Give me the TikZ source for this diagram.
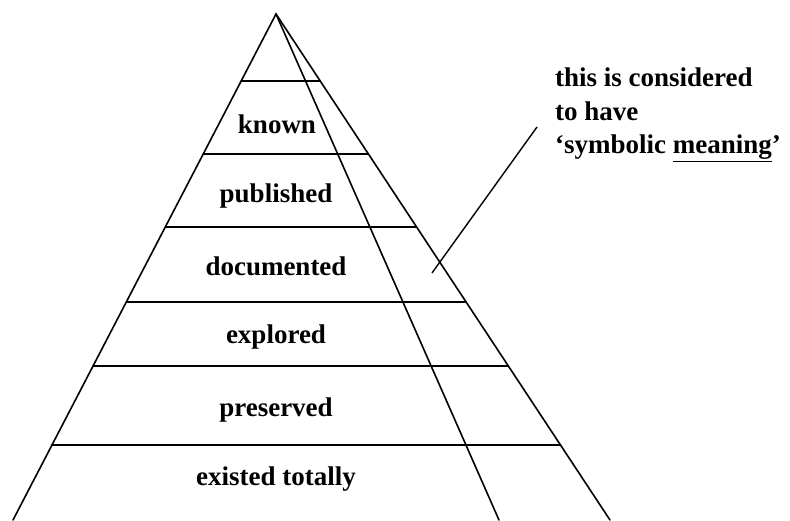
\documentclass[tikz,border=0pt]{standalone}
\usepackage{fontspec}
\setmainfont{Liberation Serif}
\usetikzlibrary{calc}
\begin{document}
\begin{tikzpicture}[x=1pt,y=-1pt,
  edge/.style={line width=1.6pt, line cap=round},
  level/.style={font=\fontsize{27}{32}\selectfont\bfseries, anchor=base, inner sep=0pt},
  notetext/.style={font=\fontsize{27}{33.5}\selectfont\bfseries, anchor=north west, align=left, inner sep=0pt}]
\useasboundingbox (0,0) rectangle (790,520);
\clip (0,0) rectangle (790,520);
% pyramid
\coordinate (A) at (276,14);
\coordinate (BL) at (13,520);
\coordinate (BR) at (610,520);
\coordinate (BI) at (499,520);
\draw[edge] (BL) -- (A) -- (BR);
\draw[edge] (A) -- (BI);
\foreach \yy in {81,154,227,302,366,445}{
  \pgfmathsetmacro{\tt}{(\yy-14)/506}
  \draw[edge] ($(A)!\tt!(BL)$) -- ($(A)!\tt!(BR)$);
}
% level labels
\node[level] (known) at (277,133) {known};
\node[level] (published) at (276,202) {published};
\node[level] (documented) at (276,275) {documented};
\node[level] (explored) at (276,343) {explored};
\node[level] (preserved) at (276,416) {preserved};
\node[level] (existed) at (276,485) {existed totally};
% note
\node[notetext] (note) at (555,68) {this is considered\\to have\\`symbolic \underline{meaning}'};
\coordinate (p1) at (432,273);
\coordinate (p2) at (537,127);
\draw[line width=1.4pt] (p1) -- (p2);
\end{tikzpicture}
\end{document}
